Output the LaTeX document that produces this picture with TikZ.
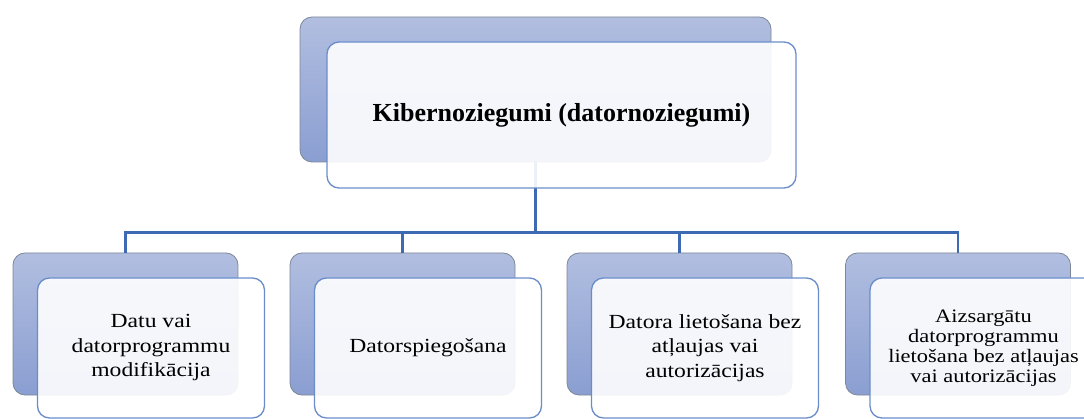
\documentclass[tikz,border=0pt]{standalone}
\usepackage{fontspec}
\setmainfont{Liberation Serif}
\newfontfamily\kidfont[FakeStretch=1.18]{Liberation Serif}
\usetikzlibrary{positioning}

\definecolor{backtop}{HTML}{B1BEE0}
\definecolor{backbot}{HTML}{8A9ED1}
\definecolor{backline}{HTML}{7D8797}
\definecolor{frontline}{HTML}{6A8DCA}
\definecolor{linkblue}{HTML}{3E6AB3}

\tikzset{
  backbox/.style={rectangle, rounded corners=12pt, draw=backline, line width=0.8pt,
    top color=backtop, bottom color=backbot, inner sep=0pt},
  frontbox/.style={rectangle, rounded corners=12pt, draw=frontline, line width=1.3pt,
    fill=white, fill opacity=0.9, text opacity=1, inner sep=0pt, align=center},
  kidback/.style={backbox, minimum width=225pt, minimum height=142pt},
  kidfront/.style={frontbox, minimum width=227pt, minimum height=140pt,
    font=\kidfont\fontsize{20}{24.5}\selectfont},
  link/.style={draw=linkblue, line width=2.6pt}
}

\begin{document}
\begin{tikzpicture}[x=1pt,y=-1pt]
\useasboundingbox (0,0) rectangle (1084,419);
\clip (0,0) rectangle (1084,419);

% Main box, back
\node[backbox, minimum width=471pt, minimum height=145pt] (kb) at (535.5,89.5) {};

% Child boxes, back
\node[kidback] (b1) at (125.5,324) {};
\node[kidback] (b2) at (402.5,324) {};
\node[kidback] (b3) at (679.5,324) {};
\node[kidback] (b4) at (958,324) {};

% Connectors
\foreach \n in {1,...,4}
  \draw[link] (kb.south) -- ++(0,70) -| (b\n.north);

% Main box, front
\node[frontbox, minimum width=469pt, minimum height=146pt,
  font=\bfseries\fontsize{26}{30}\selectfont] (kf) at ([shift={(26,25.5)}]kb.center)
  {Kibernoziegumi (datornoziegumi)};

% Child boxes, front
\node[kidfront] (f1) at ([shift={(25.5,24)}]b1.center)
  {Datu vai\\datorprogrammu\\modifikācija};
\node[kidfront] (f2) at ([shift={(25.5,24)}]b2.center)
  {Datorspiegošana};
\node[kidfront] (f3) at ([shift={(25.5,24)}]b3.center)
  {Datora lietošana bez\\atļaujas vai\\autorizācijas};
\node[kidfront, font=\kidfont\fontsize{19}{20}\selectfont] (f4) at ([shift={(25.5,24)}]b4.center)
  {Aizsargātu\\datorprogrammu\\lietošana bez atļaujas\\vai autorizācijas};
\end{tikzpicture}
\end{document}
